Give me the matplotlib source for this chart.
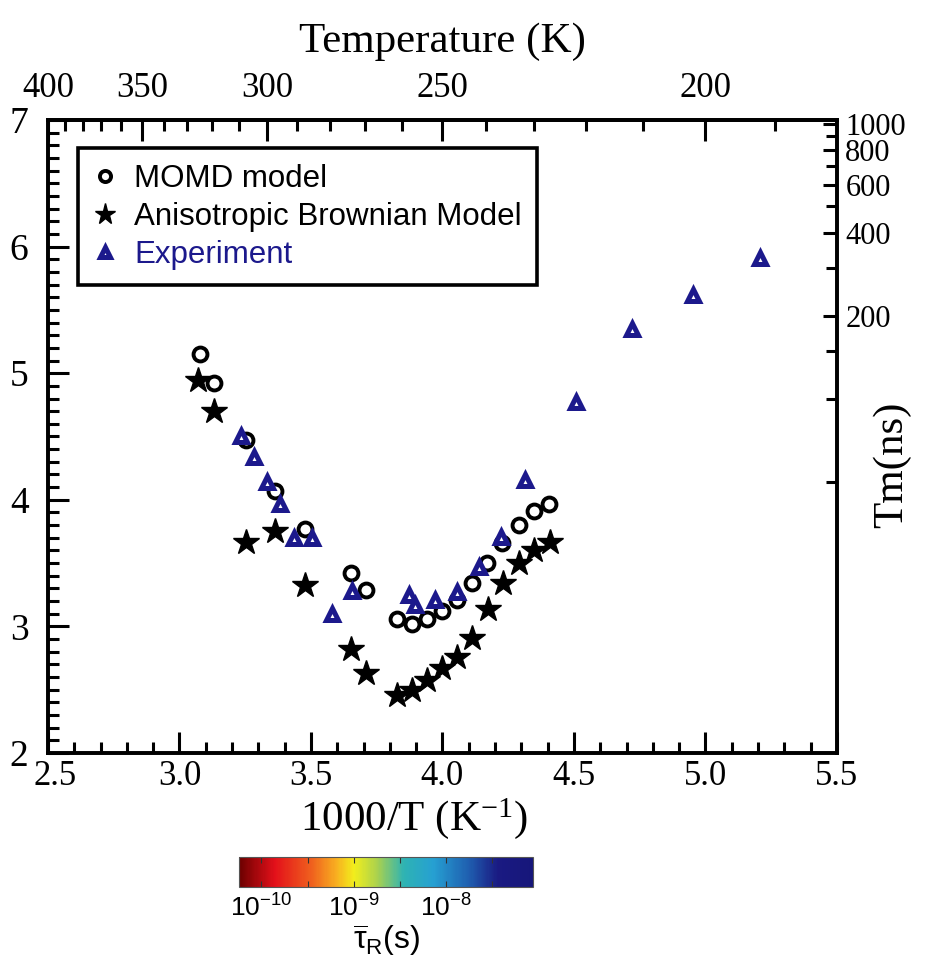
import numpy as np
import matplotlib
matplotlib.use('Agg')
import matplotlib.pyplot as plt
import matplotlib.transforms as mtransforms
from matplotlib.colors import LogNorm, LinearSegmentedColormap
from matplotlib.cm import ScalarMappable
from matplotlib.ticker import FixedLocator, NullFormatter

plt.rcParams['font.family'] = ['Liberation Serif', 'DejaVu Serif']
plt.rcParams['mathtext.default'] = 'regular'

# ---- data (1000/T , value on left axis) ----
momd_x = [3.077, 3.133, 3.251, 3.365, 3.477, 3.652, 3.709, 3.827, 3.884,
          3.941, 3.998, 4.055, 4.114, 4.171, 4.228, 4.289, 4.348, 4.405]
momd_y = [5.15, 4.92, 4.47, 4.07, 3.77, 3.42, 3.29, 3.06, 3.02,
          3.06, 3.12, 3.21, 3.34, 3.50, 3.66, 3.80, 3.91, 3.97]

brown_x = [3.070, 3.133, 3.251, 3.365, 3.479, 3.652, 3.709, 3.827, 3.884,
           3.941, 3.998, 4.057, 4.114, 4.173, 4.230, 4.289, 4.348, 4.408]
brown_y = [4.95, 4.70, 3.67, 3.75, 3.33, 2.82, 2.63, 2.46, 2.50,
           2.58, 2.67, 2.76, 2.91, 3.14, 3.34, 3.50, 3.60, 3.67]

exp_x = [3.233, 3.282, 3.331, 3.381, 3.434, 3.505, 3.580, 3.657, 3.872, 3.897,
         3.973, 4.055, 4.140, 4.222, 4.314, 4.509, 4.721, 4.954, 5.208]
exp_y = [4.50, 4.34, 4.14, 3.97, 3.70, 3.70, 3.10, 3.28, 3.25, 3.17,
         3.21, 3.27, 3.47, 3.71, 4.16, 4.77, 5.35, 5.62, 5.91]

labels = ['MOMD model', 'Anisotropic Brownian Model', 'Experiment']

# top axis (Temperature) and right axis (Tm) ticks
temp_major = [400, 350, 300, 250, 200]
temp_minor = [390, 380, 370, 360, 340, 330, 320, 310, 290, 280, 270, 260,
              240, 230, 220, 210, 190]
tm_major = [200, 400, 600, 800, 1000]
tm_minor = [50, 100, 150, 300, 500, 700, 900]

# colour bar (tau_R in s)
tau_ticks = [1e-10, 1e-9, 1e-8]
tau_labels = ['10$^{-10}$', '10$^{-9}$', '10$^{-8}$']
tau_minor = [10**-9.5, 10**-8.5, 10**-7.5]
tau_range = (10**-10.24, 10**-7.05)

NAVY = '#1c198c'
LW = 2.6
SANS = ['Liberation Sans', 'DejaVu Sans']

fig = plt.figure(figsize=(9.3, 9.73), dpi=100)
ax = fig.add_axes([0.0516, 0.2261, 0.8484, 0.6506])

ax.plot(momd_x, momd_y, 'o', ms=10, mfc='white', mec='black', mew=2.8,
        ls='none', label=labels[0], zorder=3)
ax.plot(brown_x, brown_y, '*', ms=19, color='black', ls='none',
        label=labels[1], zorder=4)
ax.plot(exp_x, exp_y, '^', ms=9, mfc='white', mec=NAVY, mew=3.6,
        ls='none', label=labels[2], zorder=5)

ax.set_xlim(2.5, 5.5)
ax.set_ylim(2, 7)
ax.set_xticks(np.arange(2.5, 5.51, 0.5))
ax.set_xticks(np.arange(2.5, 5.51, 0.1), minor=True)
ax.set_yticks(np.arange(2, 7.01, 1))
ax.set_yticks(np.arange(2, 7.01, 0.1), minor=True)
ax.tick_params(axis='both', which='major', direction='in', length=15,
               width=2.2, labelsize=25, pad=5)
ax.tick_params(axis='y', which='major', labelsize=27, pad=14)
ax.tick_params(axis='both', which='minor', direction='in', length=8, width=2.2)
ax.tick_params(axis='x', which='both', top=False)
ax.tick_params(axis='y', which='both', right=False)
for s in ax.spines.values():
    s.set_linewidth(LW)

# nudge the "2.5" label a little to the right so it clears the "2"
first = ax.xaxis.get_major_ticks()[0].label1
first.set_transform(first.get_transform() +
                    mtransforms.ScaledTranslation(5 / 72, 0, fig.dpi_scale_trans))

ax.set_xlabel('1000/T (K$^{-1}$)', fontsize=31)
ax.xaxis.set_label_coords(0.464, -0.068)


# top axis: temperature
def inv(v):
    v = np.asarray(v, dtype=float)
    with np.errstate(divide='ignore'):
        return 1000.0 / v


secax = ax.secondary_xaxis('top', functions=(inv, inv))
secax.set_xticks(temp_major)
secax.set_xticklabels([str(t) for t in temp_major])
secax.xaxis.set_minor_locator(FixedLocator(temp_minor))
secax.xaxis.set_minor_formatter(NullFormatter())
secax.tick_params(which='major', direction='in', length=15, width=2.2,
                  labelsize=25, pad=11)
secax.tick_params(which='minor', direction='in', length=8, width=2.2)
secax.spines['top'].set_linewidth(LW)
secax.set_xlabel('Temperature (K)', fontsize=31, labelpad=14)

# right axis: Tm (log)
ax2 = ax.twinx()
ax2.set_yscale('log')
ax2.set_ylim(5.2, 1030)
ax2.set_yticks(tm_major)
ax2.set_yticklabels([str(t) for t in tm_major])
ax2.yaxis.set_minor_locator(FixedLocator(tm_minor))
ax2.yaxis.set_minor_formatter(NullFormatter())
ax2.tick_params(which='major', direction='in', length=10, width=2.2,
                labelsize=22, pad=6)
ax2.tick_params(which='minor', direction='in', length=8, width=2.2)
for s in ax2.spines.values():
    s.set_linewidth(LW)
ax2.set_ylabel('Tm(ns)', fontsize=31, rotation=90)
ax2.yaxis.set_label_coords(1.045, 0.455)

# legend
leg = ax.legend(loc='upper left', bbox_to_anchor=(0.038, 0.955),
                prop={'family': SANS, 'size': 22.5},
                frameon=True, fancybox=False, edgecolor='black',
                handlelength=0.7, handletextpad=0.6, labelspacing=0.25,
                borderpad=0.5, borderaxespad=0, markerscale=0.8,
                labelcolor=['black', 'black', NAVY])
leg.get_frame().set_linewidth(LW)
leg.get_frame().set_alpha(1)

# colour bar
cmap = LinearSegmentedColormap.from_list('tau', [
    (0.00, '#6e0000'), (0.12, '#e3101a'), (0.25, '#f0641e'),
    (0.33, '#f8b020'), (0.39, '#f2ee1c'), (0.47, '#a9d14f'),
    (0.56, '#2eb3b3'), (0.66, '#26a0d2'), (0.78, '#1f5fb0'),
    (0.88, '#1a1a82'), (1.00, '#16167a')])
cax = fig.add_axes([0.2573, 0.0884, 0.3163, 0.0308])
sm = ScalarMappable(norm=LogNorm(*tau_range), cmap=cmap)
cb = fig.colorbar(sm, cax=cax, orientation='horizontal')
cb.set_ticks(tau_ticks, labels=tau_labels)
cax.xaxis.set_minor_locator(FixedLocator(tau_minor))
cax.xaxis.set_minor_formatter(NullFormatter())
cax.tick_params(axis='x', which='both', direction='in', top=True, bottom=True,
                length=4, width=0.8, color='#333333', labelsize=19, pad=5)
for t in cax.get_xticklabels():
    t.set_family(SANS)
cb.outline.set_linewidth(0.8)
cb.outline.set_edgecolor('#555555')
cb.set_label(r'$\overline{\tau}_R$(s)', fontsize=23, family=SANS, labelpad=1)

fig.savefig('out.png', dpi=100, facecolor='white')
